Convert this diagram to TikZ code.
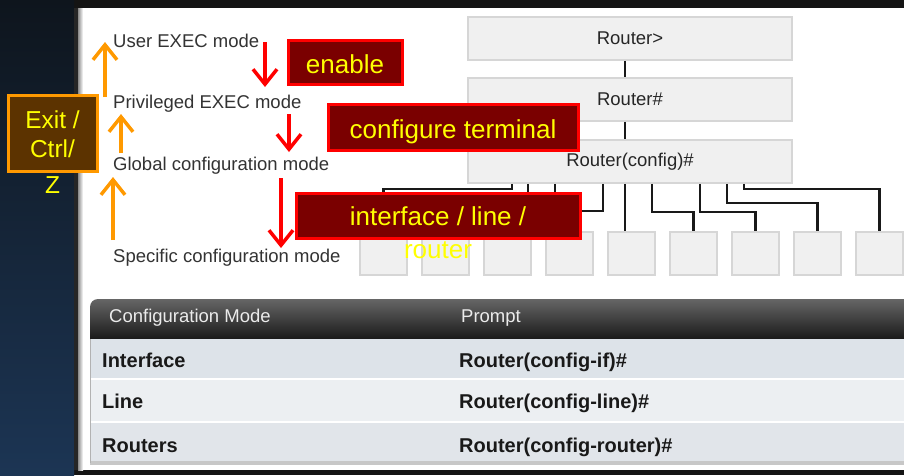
\documentclass[tikz,border=0pt]{standalone}
\usepackage{fontspec}
\setmainfont{Liberation Sans}
\usetikzlibrary{arrows.meta}
\definecolor{bgtop}{HTML}{0E151D}
\definecolor{bgbot}{HTML}{1C3554}
\definecolor{boxfill}{HTML}{F0F0F0}
\definecolor{boxline}{HTML}{D6D6D6}
\definecolor{cmdfill}{HTML}{7A0000}
\definecolor{cmdline}{HTML}{FF0000}
\definecolor{cmdtext}{HTML}{FFFF00}
\definecolor{exitfill}{HTML}{5C3300}
\definecolor{exitline}{HTML}{FF9900}
\definecolor{labtext}{HTML}{333333}
\definecolor{rowA}{HTML}{DDE3E9}
\definecolor{rowB}{HTML}{ECEFF2}
\definecolor{rowC}{HTML}{E1E5EA}
\begin{document}
\begin{tikzpicture}[x=1pt,y=-1pt,
  promptbox/.style={draw=boxline, fill=boxfill, line width=1.5pt, minimum width=324pt, minimum height=43pt, inner sep=0pt, font=\fontsize{18.5}{21}\selectfont, text=black!85},
  leaf/.style={draw=boxline, fill=boxfill, line width=1.2pt, minimum width=47pt, minimum height=43pt, inner sep=0pt},
  modelabel/.style={anchor=base west, inner sep=0pt, font=\fontsize{18.5}{21}\selectfont, text=labtext},
  cmdbox/.style={draw=cmdline, fill=cmdfill, line width=3pt, inner sep=0pt, font=\fontsize{26}{33}\selectfont, text=cmdtext, text height=22pt, text depth=0pt},
  cmdword/.style={font=\fontsize{26}{33}\selectfont, text=cmdtext, inner sep=0pt, align=center},
  exitbox/.style={draw=exitline, fill=exitfill, line width=3pt, inner sep=0pt},
  exitword/.style={font=\fontsize{24.5}{29}\selectfont, text=cmdtext, inner sep=0pt, align=center},
  branch/.style={line width=2.5pt, draw=black!90},
  downarrow/.style={draw=red, line width=3.5pt, -{Straight Barb[length=15pt,width=24pt]}},
  uparrow/.style={draw=exitline, line width=3.5pt, -{Straight Barb[length=15pt,width=24pt]}},
  thead/.style={anchor=base west, inner sep=0pt, font=\fontsize{18.5}{22}\selectfont, text=black!8},
  tcell/.style={anchor=base west, inner sep=0pt, font=\fontsize{20}{24}\selectfont\bfseries, text=black!90},
]
\useasboundingbox (0,0) rectangle (904,475);
% background
\fill[black!92] (0,0) rectangle (904,475);
\shade[top color=bgtop, bottom color=bgbot] (0,0) rectangle (74,475);
\fill[black!85] (74,8) rectangle (78,470);
\fill[white] (78,8) rectangle (904,470);
\shade[left color=black!45, right color=white] (78,8) rectangle (83,470);

% prompt hierarchy
\node[promptbox] (r1) at (630,38.5) {Router>};
\node[promptbox] (r2) at (630,99.5) {Router\#};
\node[promptbox] (r3) at (630,161.5) {Router(config)\#};
\draw[branch] (r1.south -| 625,0) -- (r2.north -| 625,0);
\draw[branch] (r2.south -| 625,0) -- (r3.north -| 625,0);
\foreach \i in {1,...,9}
  \node[leaf] (b\i) at ({383.5+62*(\i-1)},253.5) {};
\draw[branch] (r3.south -| 512,0) -- ++(0,5) -| (b1.north);
\draw[branch] (r3.south -| 528,0) -- ++(0,15) -| (b2.north);
\draw[branch] (r3.south -| 555,0) -- ++(0,20) -| (b3.north);
\draw[branch] (r3.south -| 603,0) -- ++(0,27) -| (b4.north);
\draw[branch] (r3.south -| 625,0) -- (b5.north -| 625,0);
\draw[branch] (r3.south -| 652,0) -- ++(0,28) -| (b6.north);
\draw[branch] (r3.south -| 700,0) -- ++(0,28) -| (b7.north);
\draw[branch] (r3.south -| 727,0) -- ++(0,19) -| (b8.north);
\draw[branch] (r3.south -| 744,0) -- ++(0,5) -| (b9.north);

% mode labels
\node[modelabel] (m1) at (113,47) {User EXEC mode};
\node[modelabel] (m2) at (113,108) {Privileged EXEC mode};
\node[modelabel] (m3) at (113,170) {Global configuration mode};
\node[modelabel] (m4) at (113,262) {Specific configuration mode};

% command boxes
\node[cmdbox, minimum width=114pt, minimum height=44pt] (en) at (345,62) {enable};
\node[cmdbox, minimum width=250pt, minimum height=46pt] (ct) at (453,127) {configure terminal};
\node[cmdbox, minimum width=284pt, minimum height=45pt] (il) at (438,215.5) {};
\node[cmdword, anchor=north] (ilt) at (438,206.5) {interface / line /\\router};

% exit box
\node[exitbox, minimum width=89pt, minimum height=76pt] (ex) at (52.5,133) {};
\node[exitword, anchor=north] (ext) at (52.5,110.5) {Exit /\\Ctrl/\\[7pt]Z};

% arrows
\coordinate (d1a) at (265,42);  \coordinate (d1b) at (265,87);
\coordinate (d2a) at (289,114); \coordinate (d2b) at (289,152);
\coordinate (d3a) at (281,178); \coordinate (d3b) at (281,248);
\draw[downarrow] (d1a) -- (d1b);
\draw[downarrow] (d2a) -- (d2b);
\draw[downarrow] (d3a) -- (d3b);
\coordinate (u1a) at (105,97);  \coordinate (u1b) at (105,42);
\coordinate (u2a) at (121,153); \coordinate (u2b) at (121,114);
\coordinate (u3a) at (113,240); \coordinate (u3b) at (113,177);
\draw[uparrow] (u1a) -- (u1b);
\draw[uparrow] (u2a) -- (u2b);
\draw[uparrow] (u3a) -- (u3b);

% table
\shade[top color=black!60, bottom color=black!90, rounded corners=8pt] (90,339) -- (90,299) [sharp corners] -- (904,299) -- (904,339) -- cycle;
\fill[rowA] (90,339) rectangle (904,378);
\fill[rowB] (90,380) rectangle (904,421);
\fill[rowC] (90,423) rectangle (904,461);
\fill[black!22] (90,461) rectangle (904,465);
\draw[black!30, line width=1pt] (90.5,339) -- (90.5,463);
\node[thead] (h1) at (109,322) {Configuration Mode};
\node[thead] (h2) at (461,322) {Prompt};
\node[tcell] (c11) at (102,367) {Interface};
\node[tcell] (c12) at (459,367) {Router(config-if)\#};
\node[tcell] (c21) at (102,408) {Line};
\node[tcell] (c22) at (459,408) {Router(config-line)\#};
\node[tcell] (c31) at (102,452) {Routers};
\node[tcell] (c32) at (459,452) {Router(config-router)\#};
\end{tikzpicture}
\end{document}
